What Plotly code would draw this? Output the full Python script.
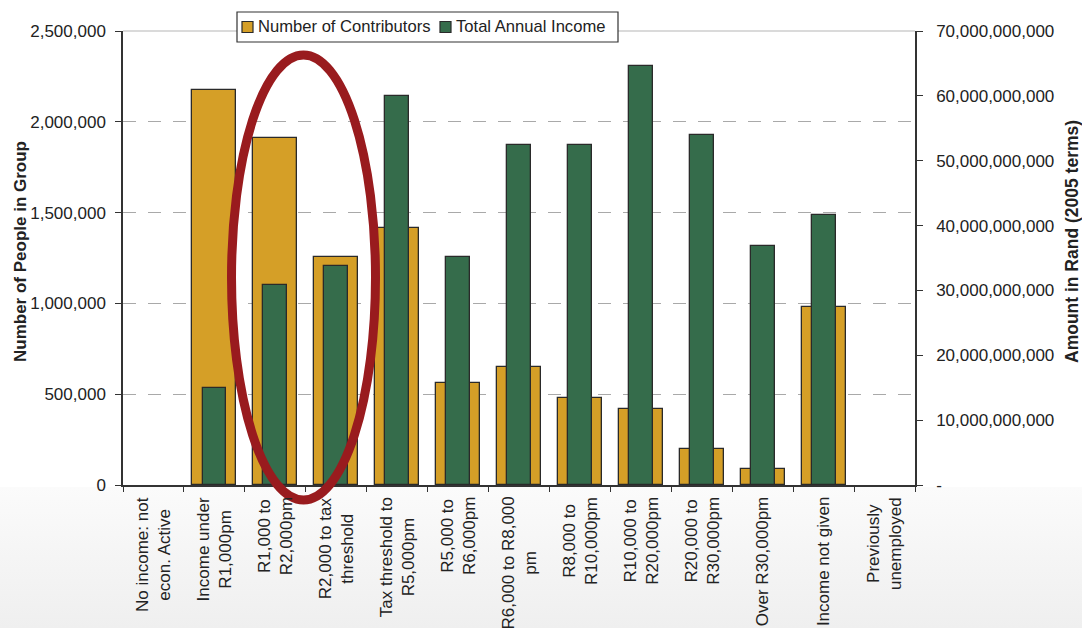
import plotly.graph_objects as go

# Income bands (x categories)
categories = [
    "No income: not<br>econ. Active",
    "Income under<br>R1,000pm",
    "R1,000 to<br>R2,000pm",
    "R2,000 to tax<br>threshold",
    "Tax threshold to<br>R5,000pm",
    "R5,000 to<br>R6,000pm",
    "R6,000 to R8,000<br>pm",
    "R8,000 to<br>R10,000pm",
    "R10,000 to<br>R20,000pm",
    "R20,000 to<br>R30,000pm",
    "Over R30,000pm",
    "Income not given",
    "Previously<br>unemployed",
]

# Number of contributors per band (left axis)
contributors = [0, 2175000, 1912000, 1257000, 1417000, 563000, 648000,
                481000, 417000, 198000, 86000, 982000, 0]

# Total annual income per band, Rand in 2005 terms (right axis)
income = [0, 15.0e9, 30.8e9, 33.7e9, 60.0e9, 35.2e9, 52.5e9,
          52.5e9, 64.6e9, 53.9e9, 36.85e9, 41.6e9, 0]

# Right-axis tick values and labels
income_ticks = [0, 10e9, 20e9, 30e9, 40e9, 50e9, 60e9, 70e9]
income_ticktext = ["-", "10,000,000,000", "20,000,000,000", "30,000,000,000",
                   "40,000,000,000", "50,000,000,000", "60,000,000,000",
                   "70,000,000,000"]

series_names = ["Number of Contributors", "Total Annual Income"]

FONT = "Liberation Sans, Arial, sans-serif"
ORANGE = "#D59F27"
GREEN = "#356C4B"
OUTLINE = "#2a2a2a"
INK = "#222222"
AXIS = "#333333"

L, R, T, B = 123, 167, 31, 143
W, H = 1082, 628
pw, ph = W - L - R, H - T - B


def px_x(x):
    return (x - L) / pw


def px_y(y):
    return (H - B - y) / ph


def outline_widths(values):
    # no outline on empty bars so nothing sits on the axis line
    return [0 if v == 0 else 1.3 for v in values]


fig = go.Figure()

fig.add_trace(go.Bar(
    x=categories, y=contributors, name=series_names[0],
    marker=dict(color=ORANGE, line=dict(color=OUTLINE, width=outline_widths(contributors))),
    width=0.72, yaxis="y", showlegend=False,
))
fig.add_trace(go.Bar(
    x=categories, y=income, name=series_names[1],
    marker=dict(color=GREEN, line=dict(color=OUTLINE, width=outline_widths(income))),
    width=0.39, yaxis="y2", showlegend=False,
))

# Soft grey gradient behind the category labels
gradient_svg = (
    "data:image/svg+xml;utf8,"
    "<svg xmlns='http://www.w3.org/2000/svg' width='100' height='100' preserveAspectRatio='none'>"
    "<defs><linearGradient id='g' x1='0' y1='0' x2='0' y2='1'>"
    "<stop offset='0' stop-color='%23fbfbfb'/><stop offset='1' stop-color='%23efefef'/>"
    "</linearGradient></defs><rect width='100' height='100' fill='url(%23g)'/></svg>"
)

shapes = [
    # solid top border of the plot area
    dict(type="line", xref="paper", yref="paper", x0=0, x1=1, y0=1, y1=1,
         line=dict(color="#b5b5b5", width=1.2), layer="below"),
    # legend frame
    dict(type="rect", xref="paper", yref="paper",
         x0=px_x(237), x1=px_x(618), y0=px_y(42), y1=px_y(12),
         fillcolor="white", line=dict(color=AXIS, width=1.2), layer="above"),
    # legend swatches
    dict(type="rect", xref="paper", yref="paper",
         x0=px_x(242), x1=px_x(253), y0=px_y(32.5), y1=px_y(21.5),
         fillcolor=ORANGE, line=dict(color=OUTLINE, width=1.2), layer="above"),
    dict(type="rect", xref="paper", yref="paper",
         x0=px_x(440), x1=px_x(451), y0=px_y(32.5), y1=px_y(21.5),
         fillcolor=GREEN, line=dict(color=OUTLINE, width=1.2), layer="above"),
    # highlight ring around the low-income bands
    dict(type="circle", xref="paper", yref="paper",
         x0=px_x(231.5), x1=px_x(375.5), y0=px_y(500), y1=px_y(55),
         line=dict(color="#991B1E", width=9), layer="above"),
]

annotations = [
    dict(text=series_names[0], xref="paper", yref="paper",
         x=px_x(256), y=px_y(26.5), xanchor="left", yanchor="middle",
         showarrow=False, font=dict(family=FONT, size=16.6, color=INK)),
    dict(text=series_names[1], xref="paper", yref="paper",
         x=px_x(454), y=px_y(26.5), xanchor="left", yanchor="middle",
         showarrow=False, font=dict(family=FONT, size=16.6, color=INK)),
    dict(text="<b>Number of People in Group</b>", textangle=-90,
         xref="paper", yref="paper", x=px_x(20), y=px_y(252),
         xanchor="center", yanchor="middle", showarrow=False,
         font=dict(family=FONT, size=17, color=INK)),
    dict(text="<b>Amount in Rand (2005 terms)</b>", textangle=-90,
         xref="paper", yref="paper", x=px_x(1072), y=px_y(242),
         xanchor="center", yanchor="middle", showarrow=False,
         font=dict(family=FONT, size=17.5, color=INK)),
]

# Category labels, rotated, with centred lines
for cat in categories:
    annotations.append(dict(
        text=cat, xref="x", yref="paper", x=cat, y=px_y(495),
        textangle=-90, xanchor="center", yanchor="top", align="center",
        showarrow=False, font=dict(family=FONT, size=17, color=INK),
    ))

fig.update_layout(
    width=W, height=H,
    margin=dict(l=L, r=R, t=T, b=B, pad=0),
    paper_bgcolor="white",
    plot_bgcolor="white",
    barmode="overlay",
    bargap=0,
    font=dict(family=FONT, size=17, color=INK),
    showlegend=False,
    xaxis=dict(
        type="category",
        tickson="boundaries",
        ticks="outside", ticklen=5, tickwidth=1.3, tickcolor=AXIS,
        showticklabels=False,
        showline=True, linecolor=AXIS, linewidth=1.5,
        showgrid=False, automargin=False,
    ),
    yaxis=dict(
        range=[0, 2500000], dtick=500000, tickformat=",",
        ticks="outside", ticklen=6, tickwidth=1.3, tickcolor=AXIS,
        ticklabelstandoff=6,
        showline=True, linecolor=AXIS, linewidth=1.5,
        showgrid=True, gridcolor="#a9a9a9", gridwidth=1, griddash="13px,12px",
        zeroline=False, automargin=False,
        tickfont=dict(family=FONT, size=17, color=INK),
    ),
    yaxis2=dict(
        overlaying="y", side="right",
        range=[0, 70e9], tickvals=income_ticks, ticktext=income_ticktext,
        ticks="outside", ticklen=6, tickwidth=1.3, tickcolor=AXIS,
        ticklabelstandoff=10,
        showline=True, linecolor=AXIS, linewidth=1.5,
        showgrid=False, zeroline=False, automargin=False,
        tickfont=dict(family=FONT, size=17, color=INK),
    ),
    # inner half of the crossing tick marks on the right axis
    yaxis3=dict(
        overlaying="y", side="right", anchor="x",
        range=[0, 70e9], tickvals=income_ticks,
        ticks="inside", ticklen=5, tickwidth=1.3, tickcolor=AXIS,
        showticklabels=False, showline=False, showgrid=False, zeroline=False,
        automargin=False,
    ),
    images=[dict(
        source=gradient_svg, xref="paper", yref="paper",
        x=px_x(0), y=px_y(487), sizex=W / pw, sizey=(H - 487) / ph,
        xanchor="left", yanchor="top", sizing="stretch", layer="below",
    )],
    shapes=shapes,
    annotations=annotations,
)

fig.write_html("out.html")
